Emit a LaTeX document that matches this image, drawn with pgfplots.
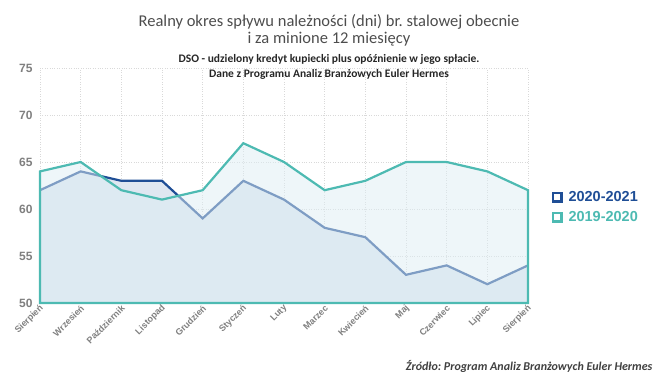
\documentclass[border=0pt]{standalone}
\usepackage{fontspec}
\setmainfont{Liberation Sans}
\newfontfamily\calfont{Carlito}
\newfontfamily\boldsans[UprightFont={* Bold}]{Liberation Sans}
\usepackage{pgfplots}
\pgfplotsset{compat=1.18}
\definecolor{darkblue}{HTML}{1F4E96}
\definecolor{teal2}{HTML}{4DBAB2}
\definecolor{bluefill}{HTML}{DFE7F1}
\definecolor{tealfill}{HTML}{DDEDF3}
\definecolor{tickgray}{HTML}{7F7F7F}
\definecolor{titlegray}{HTML}{4D4D4D}
\frenchspacing
\begin{document}
\begin{tikzpicture}
\useasboundingbox (0pt,0pt) rectangle (664pt,384pt);
\begin{axis}[
  at={(40pt,81pt)}, anchor=south west,
  width=488pt, height=235pt, scale only axis,
  xmin=0, xmax=12, ymin=50, ymax=75,
  xtick={0,...,12},
  xticklabels={Sierpień,Wrzesień,Październik,Listopad,Grudzień,Styczeń,Luty,Marzec,Kwiecień,Maj,Czerwiec,Lipiec,Sierpień},
  ytick={50,55,...,75},
  axis line style={draw=none},
  major tick length=0pt,
  grid=major,
  major grid style={gray!30, dotted, line width=0.6pt},
  tick label style={text=tickgray},
  yticklabel style={font=\boldsans\fontsize{12}{13}\selectfont, xshift=-4pt},
  xticklabel style={font=\boldsans\fontsize{9}{10}\selectfont, rotate=45, anchor=east, yshift=-4pt, xshift=2pt},
  /pgf/number format/assume math mode=true,
  clip=false,
]
\addplot[draw=none, fill=bluefill] coordinates {(0,62)(1,64)(2,63)(3,63)(4,59)(5,63)(6,61)(7,58)(8,57)(9,53)(10,54)(11,52)(12,54)} \closedcycle;
\addplot[darkblue, line width=2.2pt] coordinates {(0,62)(1,64)(2,63)(3,63)(4,59)(5,63)(6,61)(7,58)(8,57)(9,53)(10,54)(11,52)(12,54)};
\addplot[draw=none, fill=tealfill, fill opacity=0.5] coordinates {(0,64)(1,65)(2,62)(3,61)(4,62)(5,67)(6,65)(7,62)(8,63)(9,65)(10,65)(11,64)(12,62)} \closedcycle;
\addplot[teal2, line width=2.2pt, line join=miter] coordinates {(0,50)(0,64)(1,65)(2,62)(3,61)(4,62)(5,67)(6,65)(7,62)(8,63)(9,65)(10,65)(11,64)(12,62)(12,50)(0,50)} -- cycle;
\end{axis}
\node[font=\calfont\fontsize{16.5}{18}\selectfont, text=titlegray, align=center] at (329pt,354pt) {Realny okres spływu należności (dni) br. stalowej obecnie\\[-1pt] i za minione 12 miesięcy};
\node[font=\calfont\bfseries\fontsize{11.5}{15}\selectfont, text=black!85, align=center] at (329pt,317pt) {DSO - udzielony kredyt kupiecki plus opóźnienie w jego spłacie.\\ Dane z Programu Analiz Branżowych Euler Hermes};
\node[font=\calfont\bfseries\itshape\fontsize{12}{13}\selectfont, text=black!75, anchor=east] at (656pt,18pt) {Źródło: Program Analiz Branżowych Euler Hermes};
\draw[darkblue, line width=2.5pt] (553pt,182.5pt) rectangle (561.5pt,191pt);
\node[font=\boldsans\fontsize{14.5}{15}\selectfont, text=darkblue, anchor=west] at (565pt,187pt) {2020-2021};
\draw[teal2, line width=2.5pt] (553pt,162.5pt) rectangle (561.5pt,171pt);
\node[font=\boldsans\fontsize{14.5}{15}\selectfont, text=teal2, anchor=west] at (565pt,167pt) {2019-2020};
\end{tikzpicture}
\end{document}
